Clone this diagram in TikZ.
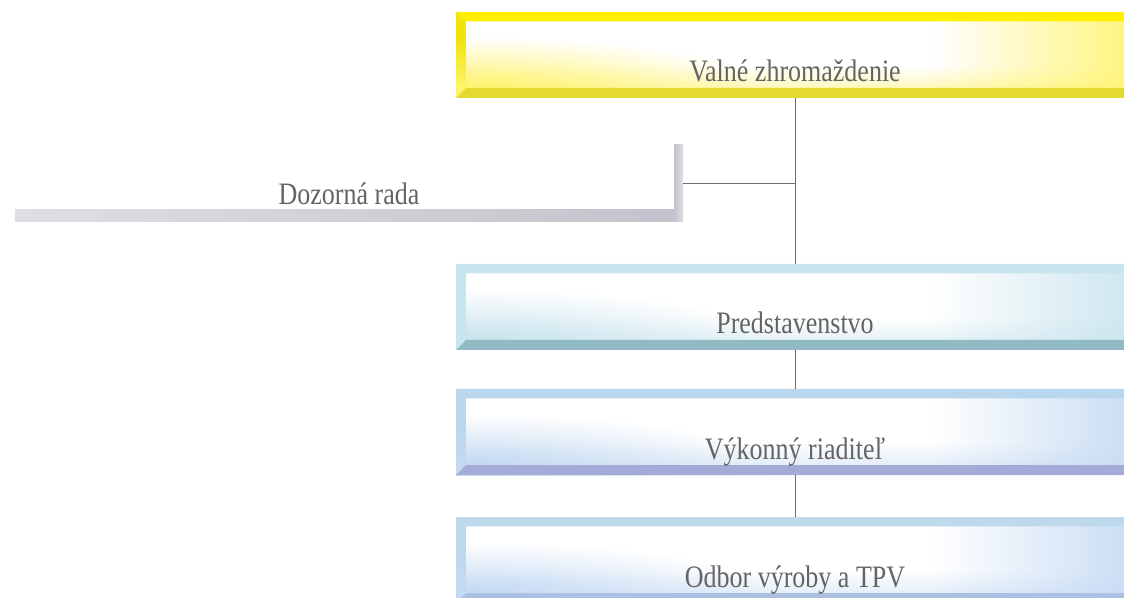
\documentclass[tikz,border=0pt]{standalone}
\usepackage{fontspec}
\usepackage{graphicx}
\setmainfont{Liberation Serif}
\usetikzlibrary{calc, positioning, fadings}
\definecolor{boxtext}{RGB}{100,100,100}
\definecolor{connline}{RGB}{110,110,110}
\definecolor{goldtop}{RGB}{255,240,0}
\definecolor{goldleft}{RGB}{240,228,10}
\definecolor{goldbottom}{RGB}{228,218,45}
\definecolor{goldtint}{RGB}{255,244,110}
\definecolor{tealtop}{RGB}{200,228,236}
\definecolor{tealbottom}{RGB}{145,186,196}
\definecolor{tealtint}{RGB}{200,228,238}
\definecolor{lavtop}{RGB}{185,214,236}
\definecolor{lavbottom}{RGB}{162,172,214}
\definecolor{lavtint}{RGB}{196,218,242}
\definecolor{skytop}{RGB}{190,216,236}
\definecolor{skybottom}{RGB}{172,192,226}
\definecolor{skytint}{RGB}{196,218,244}
\definecolor{barlight}{RGB}{222,222,228}
\definecolor{bardark}{RGB}{195,195,205}
\tikzfading[name=glowfade, inner color=transparent!0, outer color=transparent!100]
\newcommand{\boxlabel}[1]{\scalebox{1}[1.2]{#1}}

\begin{document}
\begin{tikzpicture}[x=0.75pt, y=-0.75pt,
    % bevelled box: top, left, bottom, inner tint
    bevelbox/.style n args={4}{rectangle, inner sep=0pt,
        minimum width=508.5pt, minimum height=64.5pt,
        text height=52.5pt, text depth=12pt,
        font=\fontsize{19.5}{23}\selectfont, text=boxtext,
        path picture={
            \path (path picture bounding box.south west) coordinate (bsw)
                  (path picture bounding box.north east) coordinate (bne);
            \fill[#2] (bsw) rectangle (bne);
            \fill[white] ($(bsw)+(7.5pt,7.5pt)$) rectangle ($(bne)+(0,-7pt)$);
            % tint rising from the lower left
            \fill[#4, path fading=glowfade]
                ($(bsw)+(7.5pt,7.5pt)$) ellipse [x radius=230pt, y radius=38pt];
            \fill[#4, path fading=north, fill opacity=0.45]
                ($(bsw)+(7.5pt,7.5pt)$) rectangle ($(bsw-|bne)+(0,24pt)$);
            % tint at the right end
            \fill[#4, path fading=west, fill opacity=0.9]
                ($(bne)+(-150pt,-7pt)$) rectangle ($(bsw-|bne)+(0,7.5pt)$);
            % bevel edges
            \fill[#1] (bsw|-bne) -- (bne) -- ($(bne)+(0,-7pt)$)
                -- ($(bsw|-bne)+(7.5pt,-7pt)$) -- cycle;
            \fill[#3] (bsw) -- (bsw-|bne) -- ($(bsw-|bne)+(0,7.5pt)$)
                -- ($(bsw)+(7.5pt,7.5pt)$) -- cycle;
        }},
    sidebox/.style={rectangle, inner sep=0pt,
        minimum width=501pt, minimum height=57.75pt,
        text height=45pt, text depth=12.75pt,
        font=\fontsize{19.5}{23}\selectfont, text=boxtext,
        path picture={
            \path (path picture bounding box.south west) coordinate (bsw)
                  (path picture bounding box.north east) coordinate (bne);
            \shade[left color=barlight, right color=bardark]
                (bsw) rectangle ($(bsw-|bne)+(-6pt,9pt)$);
            \shade[left color=bardark, right color=barlight]
                ($(bsw-|bne)+(-6.75pt,0)$) -- (bsw-|bne)
                -- ($(bne)+(0,6pt)$) -- ($(bne)+(-6.75pt,0)$) -- cycle;
        }},
    conn/.style={draw=connline, line width=0.6pt}]

    \useasboundingbox (0,0) rectangle (1124,598);

    % Boxes
    \node[bevelbox={goldtop}{goldleft}{goldbottom}{goldtint}] (valne) at (795,55)
        {\boxlabel{Valné zhromaždenie}};
    \node[sidebox] (dozor) at (349,183.5) {\boxlabel{Dozorná rada}};
    \node[bevelbox={tealtop}{tealtop}{tealbottom}{tealtint}] (pred) at (795,307)
        {\boxlabel{Predstavenstvo}};
    \node[bevelbox={lavtop}{lavtop}{lavbottom}{lavtint}] (vyk) at (795,432)
        {\boxlabel{Výkonný riaditeľ}};
    \node[bevelbox={skytop}{skytop}{skybottom}{skytint}] (odbor) at (795,560)
        {\boxlabel{Odbor výroby a TPV}};

    % Connectors
    \draw[conn] (valne.south) -- (pred.north);
    \draw[conn] (dozor.east) -- (dozor.east -| valne.south);
    \draw[conn] (pred.south) -- (vyk.north);
    \draw[conn] (vyk.south) -- (odbor.north);
\end{tikzpicture}
\end{document}
